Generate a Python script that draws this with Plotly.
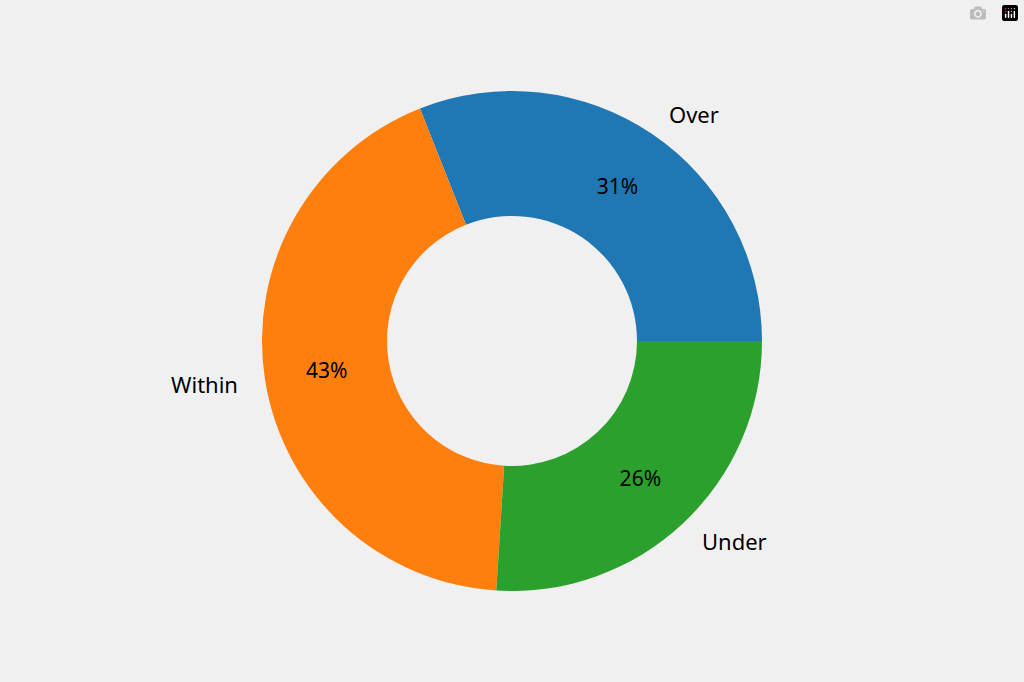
import plotly.graph_objects as go
import math

labels = ["Over", "Within", "Under"]
values = [31, 43, 26]
colors = ["#1f77b4", "#ff7f0e", "#2ca02c"]

W, H = 1024, 682
R = 250
total = sum(values)
first_span = 360 * values[0] / total
fig = go.Figure(go.Pie(
    labels=labels, values=values, sort=False, direction="counterclockwise",
    rotation=90 - first_span, hole=0.5, marker=dict(colors=colors),
    textinfo="percent", texttemplate="%{percent:.0%}", textposition="inside",
    insidetextorientation="horizontal",
    textfont=dict(color="black", size=21, family="Noto Sans"),
    domain=dict(x=[0, 1], y=[(H/2 - R)/H, (H/2 + R)/H]),
    showlegend=False, hoverinfo="label+percent"))

start = 0.0
anns = []
for lab, v in zip(labels, values):
    mid = math.radians(start + 360 * v / total / 2)
    start += 360 * v / total
    cx, cy = math.cos(mid), math.sin(mid)
    x = 0.5 + 1.1 * R * cx / W
    y = 0.5 + 1.1 * R * cy / H
    anns.append(dict(x=x, y=y, xref="paper", yref="paper", text=lab, showarrow=False,
                     xanchor="left" if cx > 0 else "right", yanchor="middle",
                     font=dict(size=22, color="black", family="Noto Sans")))

fig.update_layout(width=W, height=H, margin=dict(l=0, r=0, t=0, b=0),
                  paper_bgcolor="#f0f0f0", plot_bgcolor="#f0f0f0", annotations=anns)
fig.write_html("out.html", post_script="document.body.style.margin='0';document.body.style.background='#f0f0f0';")
